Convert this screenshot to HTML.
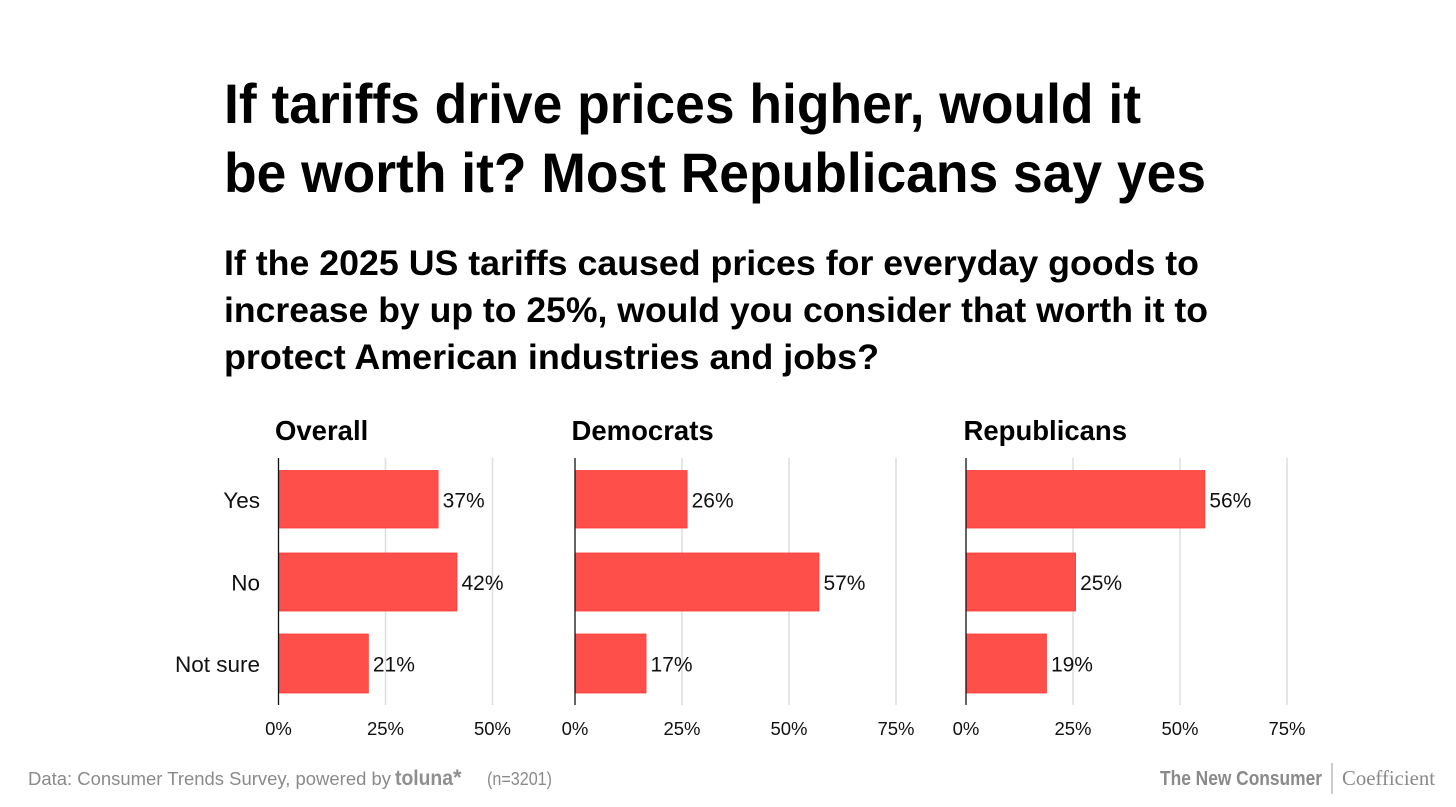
<!DOCTYPE html>
<html lang="en">
<head>
<meta charset="utf-8">
<title>Tariff survey chart</title>
<style>
html,body{margin:0;padding:0;background:#fff;width:1456px;height:807px;overflow:hidden}
svg{display:block}
text{font-family:"Liberation Sans",sans-serif}
.title{font-size:56px;font-weight:700;fill:#000}
.sub{font-size:35px;font-weight:700;fill:#000}
.panel{font-size:27.5px;font-weight:700;fill:#000}
.lab{font-size:21px;fill:#111}
.cat{font-size:22.5px;fill:#111}
.tick{font-size:18.5px;fill:#111}
.foot{font-size:18px;fill:#8a8a8a}
</style>
</head>
<body>
<svg id="chart" width="1456" height="807" viewBox="0 0 1456 807" xmlns="http://www.w3.org/2000/svg">
  <rect width="1456" height="807" fill="#fff"/>
  <text class="title" x="224" y="123" textLength="917" lengthAdjust="spacingAndGlyphs">If tariffs drive prices higher, would it</text>
  <text class="title" x="224" y="192" textLength="982" lengthAdjust="spacingAndGlyphs">be worth it? Most Republicans say yes</text>
  <text class="sub" x="224" y="275" textLength="975" lengthAdjust="spacingAndGlyphs">If the 2025 US tariffs caused prices for everyday goods to</text>
  <text class="sub" x="224" y="322" textLength="984" lengthAdjust="spacingAndGlyphs">increase by up to 25%, would you consider that worth it to</text>
  <text class="sub" x="224" y="369" textLength="655" lengthAdjust="spacingAndGlyphs">protect American industries and jobs?</text>
  <g id="plots"></g>
  <text class="foot" x="28" y="785" textLength="363" lengthAdjust="spacingAndGlyphs">Data: Consumer Trends Survey, powered by</text>
  <text x="395" y="785" font-size="21" font-weight="700" fill="#8f8f8f" textLength="58" lengthAdjust="spacingAndGlyphs">toluna</text>
  <text x="453" y="785" font-size="22" font-weight="700" fill="#8f8f8f">*</text>
  <text class="foot" x="487" y="785" textLength="65" lengthAdjust="spacingAndGlyphs">(n=3201)</text>
  <text x="1160" y="785" font-size="20" font-weight="700" fill="#8a8a8a" textLength="162" lengthAdjust="spacingAndGlyphs">The New Consumer</text>
  <rect x="1331.5" y="763" width="1" height="31" fill="#9a9a9a"/>
  <text x="1342" y="785" font-size="21" fill="#8a8a8a" style="font-family:'Liberation Serif',serif" textLength="93" lengthAdjust="spacingAndGlyphs">Coefficient</text>
</svg>
<script>
const categories = ["Yes", "No", "Not sure"];
const panelNames = ["Overall", "Democrats", "Republicans"];
const overallValues = [37.3, 41.7, 21];
const democratValues = [26.2, 57, 16.6];
const republicanValues = [55.8, 25.6, 18.8];
const printedOverall = ["37%", "42%", "21%"];
const printedDemocrats = ["26%", "57%", "17%"];
const printedRepublicans = ["56%", "25%", "19%"];
const overallTicks = [0, 25, 50];
const partyTicks = [0, 25, 50, 75];

const NS = "http://www.w3.org/2000/svg";
const root = document.getElementById("plots");
const PX_PER_PCT = 4.28;
const bandTops = [470.5, 553, 634];
const bandHeights = [57.5, 58, 59];

function xScale(origin, v) { return origin + v * PX_PER_PCT; }
function bandY(i) { return bandTops[i]; }
function make(tag, attrs, text) {
  const el = document.createElementNS(NS, tag);
  for (const k in attrs) el.setAttribute(k, attrs[k]);
  if (text !== undefined) el.textContent = text;
  root.appendChild(el);
  return el;
}
function slug(s) { return s.toLowerCase().replace(/\s+/g, "-"); }

function drawPanel(name, origin, titleX, values, printed, ticks, showCats) {
  const title = make("text", { x: titleX, y: 440, "class": "panel" }, name);
  
  

  ticks.forEach(function (t) {
    const x = xScale(origin, t);
    if (t !== 0) {
      const g = make("line", { x1: x, x2: x, y1: 458, y2: 705, stroke: "#dedede", "stroke-width": 1.5 });
      
      
    }
    const lbl = make("text", { x: x, y: 735, "class": "tick", "text-anchor": "middle" }, t + "%");
    
    
  });

  values.forEach(function (v, i) {
    const x1 = xScale(origin, v);
    const bar = make("rect", {
      x: origin, y: bandY(i), width: x1 - origin, height: bandHeights[i],
      fill: "#ff4f4a", stroke: "#ff3a36", "stroke-width": 0.8
    });
    
    
    const val = make("text", { x: x1 + 4.5, y: bandY(i) + bandHeights[i] / 2 + 8, "class": "lab" }, printed[i]);
    
    
    if (showCats) {
      const c = make("text", { x: 260, y: bandY(i) + bandHeights[i] / 2 + 8.5, "class": "cat", "text-anchor": "end" }, categories[i]);
      
      
    }
  });

  const axis = make("line", { x1: origin, x2: origin, y1: 458, y2: 705, stroke: "#111", "stroke-width": 1.3 });
  
  
}

drawPanel(panelNames[0], 278.5, 275, overallValues, printedOverall, overallTicks, true);
drawPanel(panelNames[1], 575, 571.5, democratValues, printedDemocrats, partyTicks, false);
drawPanel(panelNames[2], 966, 963.5, republicanValues, printedRepublicans, partyTicks, false);
</script>
</body>
</html>
